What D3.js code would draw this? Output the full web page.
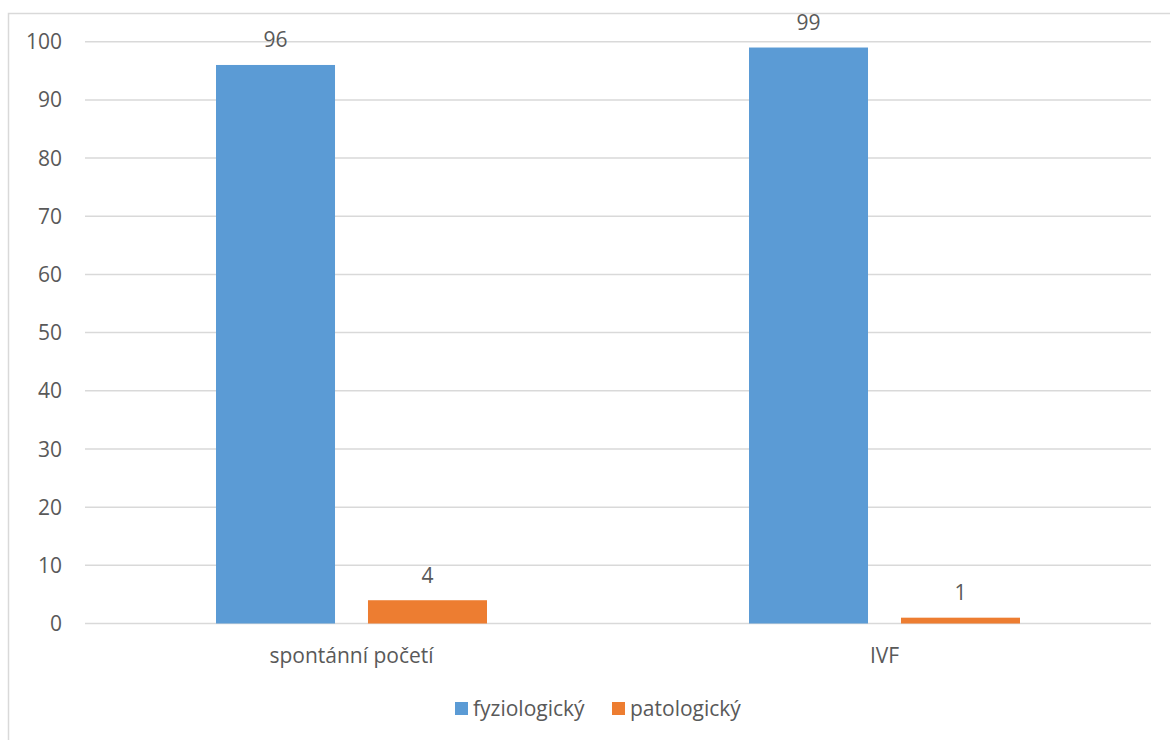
<!DOCTYPE html>
<html>
<head>
<meta charset="utf-8">
<script src="https://cdn.jsdelivr.net/npm/d3@7"></script>
<style>
  body { margin: 0; background: #fff; }
  svg { display: block; font-family: "Open Sans", sans-serif; }
</style>
</head>
<body>
<svg id="chart" width="1170" height="740"></svg>
<script>
// Data
const categories = ['spontánní početí', 'IVF'];
const series = ['fyziologický', 'patologický'];
const fyziologicky = [96, 99];
const patologicky = [4, 1];
const yTicks = [0, 10, 20, 30, 40, 50, 60, 70, 80, 90, 100];
const colors = ['#5B9BD5', '#ED7D31'];

const values = [fyziologicky, patologicky];
const textColor = '#595959';
const gridColor = '#D9D9D9';
const fontSize = 21;

const svg = d3.select('#chart');

// Chart border (runs off right and bottom edge)
svg.append('rect')
    .attr('x', 8.5)
    .attr('y', 13.5)
    .attr('width', 1200)
    .attr('height', 800)
    .attr('fill', 'none')
    .attr('stroke', gridColor)
    .attr('stroke-width', 1.5);

const plot = { left: 85, right: 1151, top: 41.7, bottom: 623.5 };

const x0 = d3.scaleBand()
    .domain(categories)
    .range([plot.left, plot.right]);

const x1 = d3.scaleBand()
    .domain(series)
    .range([0, x0.bandwidth()])
    .paddingInner(0.217)
    .paddingOuter(0.862);

const y = d3.scaleLinear()
    .domain([0, 100])
    .range([plot.bottom, plot.top]);

// Gridlines
svg.append('g')
    .selectAll('line')
    .data(yTicks)
    .join('line')
    .attr('x1', plot.left)
    .attr('x2', plot.right)
    .attr('y1', d => y(d))
    .attr('y2', d => y(d))
    .attr('stroke', gridColor)
    .attr('stroke-width', 1.5);

// Y tick labels
svg.append('g')
    .selectAll('text')
    .data(yTicks)
    .join('text')
    .attr('x', 62)
    .attr('y', d => y(d))
    .attr('dy', '0.36em')
    .attr('text-anchor', 'end')
    .attr('fill', textColor)
    .attr('font-size', fontSize)
    .text(d => d);

// Bars
const groups = svg.append('g')
    .selectAll('g')
    .data(categories)
    .join('g')
    .attr('transform', d => `translate(${x0(d)},0)`);

const cells = groups.selectAll('g')
    .data((c, ci) => series.map((s, si) => ({ s, si, v: values[si][ci] })))
    .join('g');

cells.append('rect')
    .attr('x', d => x1(d.s))
    .attr('width', x1.bandwidth())
    .attr('y', d => y(d.v))
    .attr('height', d => y(0) - y(d.v))
    .attr('fill', d => colors[d.si]);

cells.append('text')
    .attr('x', d => x1(d.s) + x1.bandwidth() / 2)
    .attr('y', d => y(d.v) - 17.5)
    .attr('text-anchor', 'middle')
    .attr('fill', textColor)
    .attr('font-size', fontSize)
    .text(d => d.v);

// Category labels
svg.append('g')
    .selectAll('text')
    .data(categories)
    .join('text')
    .attr('x', d => x0(d) + x0.bandwidth() / 2)
    .attr('y', 663)
    .attr('text-anchor', 'middle')
    .attr('fill', textColor)
    .attr('font-size', fontSize)
    .text(d => d);

// Legend
const legendX = [455, 612];
const legend = svg.append('g')
    .selectAll('g')
    .data(series)
    .join('g')
    .attr('transform', (d, i) => `translate(${legendX[i]},702)`);

legend.append('rect')
    .attr('width', 13)
    .attr('height', 13)
    .attr('fill', (d, i) => colors[i]);

legend.append('text')
    .attr('x', 18)
    .attr('y', 14)
    .attr('fill', textColor)
    .attr('font-size', fontSize)
    .text(d => d);
</script>
</body>
</html>
